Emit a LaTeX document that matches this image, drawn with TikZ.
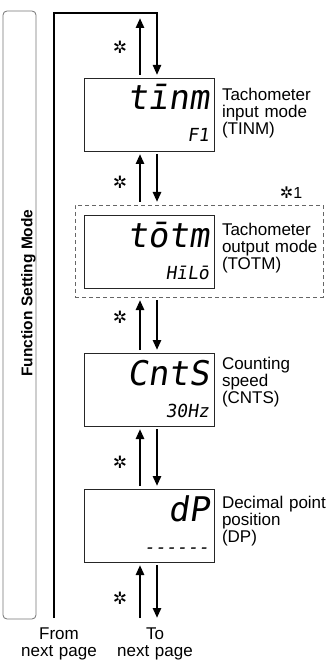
\documentclass[tikz,border=0pt]{standalone}
\usepackage{fontspec}
\setmainfont{Liberation Sans}
\newfontfamily\segfont[FakeSlant=0.15]{DejaVu Sans Mono}
\newfontfamily\symfont{DejaVu Sans}
\usetikzlibrary{positioning,arrows.meta,calc}

\begin{document}
\begin{tikzpicture}[x=1pt,y=-1pt,every node/.style={inner sep=0pt,outer sep=0pt},
  disp/.style={draw=black!85,line width=0.9pt,minimum width=130pt,minimum height=73pt},
  big/.style={font=\segfont\fontsize{34}{34}\selectfont,anchor=base east},
  small/.style={font=\segfont\fontsize{18}{18}\selectfont,anchor=base east},
  lbl/.style={font=\fontsize{17}{17}\selectfont,text width=107pt,align=left,anchor=north west},
  pagetxt/.style={font=\fontsize{17}{17}\selectfont,text width=90pt,align=center,anchor=north},
  star/.style={font=\symfont\fontsize{17}{17}\selectfont},
  arr/.style={line width=2.6pt,-{Triangle[width=8pt,length=10pt]},shorten <=3pt,shorten >=3pt}]
\useasboundingbox (0,0) rectangle (329,660);
\draw[draw=black!55,line width=0.8pt,rounded corners=4pt] (3,11) rectangle (36,619);
\node[rotate=90,font=\bfseries\fontsize{15.5}{15.5}\selectfont] (mode) at (28.5,293) {Function Setting Mode};
\node[draw=black!60,line width=0.8pt,dash pattern=on 4pt off 3pt,minimum width=248pt,minimum height=92pt] (grp) at (199,251) {};
\node[font=\fontsize{16}{16}\selectfont] (note) at (291,193) {{\symfont ✲}1};
\foreach \n/\yy/\bg/\sm in {tinm/114.5/tīnm/F1,totm/251.5/tōtm/HīLō,cnts/389.5/CntS/30Hz,dp/525.5/dP/------} {
\node[disp] (\n) at (149,\yy) {};
\node[big] (\n big) at ([shift={(-5,32)}]\n.north east) {\bg};
\node[small] (\n small) at ([shift={(-5,64)}]\n.north east) {\sm};
}
\node[lbl] (tinmlbl) at (222,87.7) {Tachometer\\input mode\\(TINM)};
\node[lbl] (totmlbl) at (222,222.7) {Tachometer\\output mode\\(TOTM)};
\node[lbl] (cntslbl) at (222,356.7) {Counting\\speed\\(CNTS)};
\node[lbl] (dplbl) at (222,495.7) {Decimal point\\position\\(DP)};
\coordinate (upx) at (140,0);
\coordinate (dnx) at (157,0);
\coordinate (from) at (54,618);
\coordinate (ltop) at (157,13);
\coordinate (utop) at (140,15);
\coordinate (bot) at (0,621);
\draw[arr,line width=2.2pt,shorten <=0pt] (from) |- (ltop) -- (dnx |- tinm.north);
\draw[arr] (upx |- tinm.north) -- (utop);
\foreach \a/\b in {tinm/grp,grp/cnts,cnts/dp} {
\draw[arr] (upx |- \b.north) -- (upx |- \a.south);
\draw[arr] (dnx |- \a.south) -- (dnx |- \b.north);
}
\draw[arr] (upx |- bot) -- (upx |- dp.south);
\draw[arr] (dnx |- dp.south) -- (dnx |- bot);
\foreach \yy [count=\i] in {47,182,317,462,598}
\node[star] (ast\i) at (120,\yy) {✲};
\node[pagetxt] (fromtxt) at (59,627.5) {From\\next page};
\node[pagetxt] (totxt) at (155,627.5) {To\\next page};
\end{tikzpicture}
\end{document}
